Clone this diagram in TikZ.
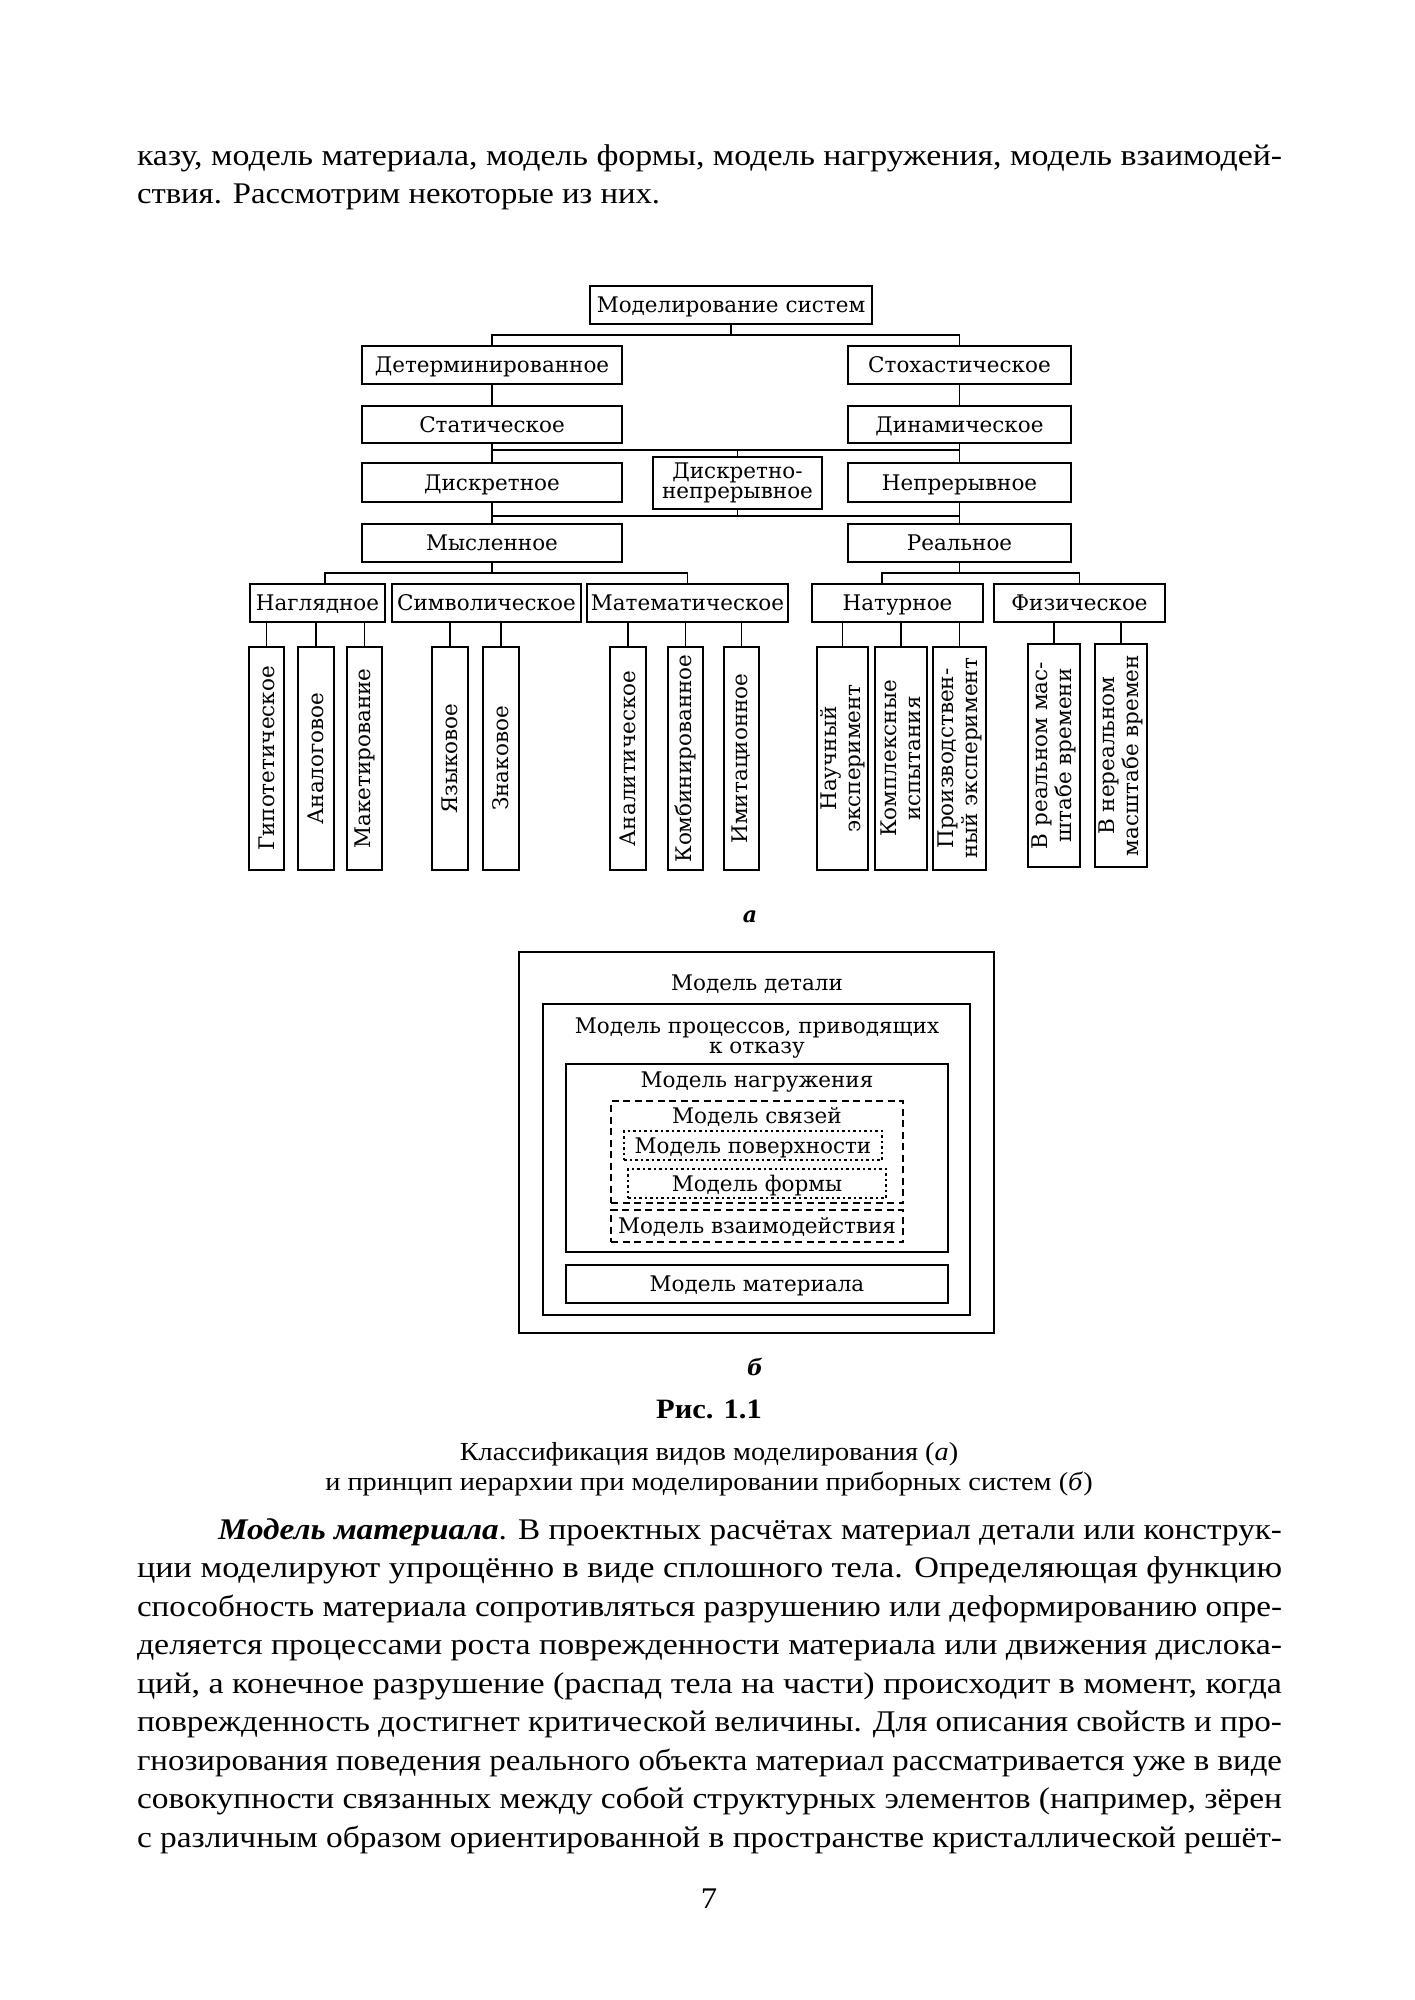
\documentclass[tikz,border=0pt]{standalone}
\usepackage{fontspec}
\setmainfont[FakeStretch=1.09]{Liberation Serif}
\newfontfamily\dfont{DejaVu Serif}
\usepackage{graphicx}
\usetikzlibrary{calc}
\begin{document}
\begin{tikzpicture}[x=1pt,y=-1pt,
  every node/.style={inner sep=0pt, outer sep=0pt},
  txt/.style={anchor=base west, font=\fontsize{30}{38}\selectfont},
  ctxt/.style={anchor=base, font=\fontsize{26}{28}\selectfont},
  dlab/.style={font=\dfont\fontsize{21.5}{24}\selectfont},
  abox/.style={dlab, draw, line width=1.8pt, text height=15pt, text depth=0pt, minimum height=38pt},
  vbox/.style={dlab, draw, line width=1.8pt, rotate=90, minimum width=223pt, align=center},
  con/.style={line width=1.8pt},
  fb/.style={draw, line width=2.6pt},
  dashbox/.style={dlab, draw, line width=1.8pt, dash pattern=on 7pt off 4.5pt, text height=15pt, text depth=0pt},
  dotbox/.style={dlab, draw, line width=1.6pt, dash pattern=on 2.5pt off 3pt, text height=15pt, text depth=0pt},
  btxt/.style={dlab, anchor=base}
]
\fill[white] (0,0) rectangle (1414,2000);
\useasboundingbox (0,0) rectangle (1414,2000);

% ---- top text ----
\node[txt] (t1) at (137,165) {\resizebox{1145pt}{\height}{казу, модель материала, модель формы, модель нагружения, модель взаимодей-}};
\node[txt] (t2) at (137,203) {ствия. Рассмотрим некоторые из них.};

% ---- diagram a ----
\node[abox, minimum width=282pt] (top) at (731,305) {Моделирование систем};
\node[abox, minimum width=260pt] (det) at (492,365) {Детерминированное};
\node[abox, minimum width=223pt] (sto) at (959.5,365) {Стохастическое};
\node[abox, minimum width=260pt, minimum height=37pt] (stat) at (492,424.5) {Статическое};
\node[abox, minimum width=223pt, minimum height=37pt] (din) at (959.5,424.5) {Динамическое};
\node[abox, minimum width=260pt, minimum height=39pt] (diskr) at (492,482.5) {Дискретное};
\node[abox, minimum width=223pt, minimum height=39pt] (nep) at (959.5,482.5) {Непрерывное};
\node[dlab, draw, line width=1.8pt, minimum width=169pt, minimum height=52pt, align=center, font=\dfont\fontsize{21.5}{20}\selectfont] (dn) at (737.5,483) {Дискретно-\\непрерывное};
\node[abox, minimum width=260pt] (mysl) at (492,543) {Мысленное};
\node[abox, minimum width=223pt] (real) at (959.5,543) {Реальное};
\node[abox, minimum width=135pt] (nagl) at (317.5,603) {Наглядное};
\node[abox, minimum width=189pt] (sym) at (486.5,603) {Символическое};
\node[abox, minimum width=201pt] (mat) at (687.5,603) {Математическое};
\node[abox, minimum width=171pt] (nat) at (897.5,603) {Натурное};
\node[abox, minimum width=171pt] (fiz) at (1079.5,603) {Физическое};

\node[vbox, minimum height=35pt] (gip) at (266.5,758.5) {Гипотетическое};
\node[vbox, minimum height=36pt] (anl) at (316,758.5) {Аналоговое};
\node[vbox, minimum height=35pt] (mak) at (364.5,758.5) {Макетирование};
\node[vbox, minimum height=36pt] (yaz) at (450,758.5) {Языковое};
\node[vbox, minimum height=36pt] (zna) at (501,758.5) {Знаковое};
\node[vbox, minimum height=36pt] (ant) at (628,758.5) {Аналитическое};
\node[vbox, minimum height=35pt] (kmb) at (685.5,758.5) {Комбинированное};
\node[vbox, minimum height=35pt] (imi) at (741.5,758.5) {Имитационное};
\node[vbox, minimum height=51pt] (nau) at (842.5,758.5) {Научный\\эксперимент};
\node[vbox, minimum height=52pt] (kom) at (901,758.5) {Комплексные\\испытания};
\node[vbox, minimum height=53pt] (pro) at (959.5,758.5) {Производствен-\\ный эксперимент};
\node[vbox, minimum height=52pt] (vre) at (1054,755.5) {В реальном мас-\\штабе времени};
\node[vbox, minimum height=52pt] (vne) at (1121,755.5) {В нереальном\\масштабе времен};

% connectors
\coordinate (j1) at (731,335);
\draw[con] (top.south) -- (j1);
\draw[con] (det.north) |- (j1) -| (sto.north);
\draw[con] (det.south) -- (stat.north);
\draw[con] (sto.south) -- (din.north);
\coordinate (h1) at (0,450);
\draw[con] (stat.south) -- (diskr.north);
\draw[con] (din.south) -- (nep.north);
\draw[con] (stat.south |- h1) -- (din.south |- h1);
\draw[con] (dn.north) -- (dn.north |- h1);
\coordinate (h2) at (0,516);
\draw[con] (diskr.south) -- (mysl.north);
\draw[con] (nep.south) -- (real.north);
\draw[con] (diskr.south |- h2) -- (nep.south |- h2);
\draw[con] (dn.south) -- (dn.south |- h2);
\coordinate (h3) at (0,573);
\coordinate (nx) at (325,0);
\coordinate (nt) at (882,0);
\draw[con] (mysl.south) -- (mysl.south |- h3);
\draw[con] (nagl.north -| nx) |- (mat.north |- h3) -- (mat.north);
\draw[con] (real.south) -- (real.south |- h3);
\draw[con] (nat.north -| nt) |- (fiz.north |- h3) -- (fiz.north);
\foreach \p/\c in {nagl/gip, nagl/anl, nagl/mak, sym/yaz, sym/zna, mat/ant, mat/kmb, mat/imi, nat/nau, nat/kom, nat/pro, fiz/vre, fiz/vne}
  \draw[con] (\p.south -| \c.east) -- (\c.east);

\node[anchor=base, font=\dfont\bfseries\itshape\fontsize{22}{24}\selectfont] (la) at (750,922) {а};

% ---- diagram b ----
\node[fb, minimum width=475pt, minimum height=381pt] (b1) at (756.5,1142.5) {};
\node[fb, minimum width=427pt, minimum height=311pt] (b2) at (756.5,1159.5) {};
\node[fb, minimum width=382pt, minimum height=188pt] (b3) at (757,1158) {};
\node[fb, dlab, minimum width=382pt, minimum height=38pt, text height=15pt, text depth=0pt] (b4) at (757,1284) {Модель материала};
\node[dashbox, minimum width=292pt, minimum height=102pt] (b5) at (757,1152) {};
\node[dotbox, minimum width=258pt, minimum height=29pt] (b6) at (753,1145.5) {Модель поверхности};
\node[dotbox, minimum width=258pt, minimum height=29pt] (b7) at (757,1183.5) {Модель формы};
\node[dashbox, minimum width=292pt, minimum height=32pt] (b8) at (757,1226) {Модель взаимодействия};
\node[btxt] (tb1) at (757,990) {Модель детали};
\node[btxt] (tb2) at (757,1033) {Модель процессов, приводящих};
\node[btxt] (tb3) at (757,1053) {к отказу};
\node[btxt] (tb4) at (757,1087) {Модель нагружения};
\node[btxt] (tb5) at (757,1123) {Модель связей};

\node[anchor=base, font=\dfont\bfseries\itshape\fontsize{22}{24}\selectfont] (lb) at (755,1375) {б};

% ---- caption ----
\node[anchor=base, font=\bfseries\fontsize{28}{30}\selectfont] (fig) at (709,1418) {Рис. 1.1};
\node[ctxt] (c1) at (709,1460) {Классификация видов моделирования (\textit{а})};
\node[ctxt] (c2) at (709,1490) {и принцип иерархии при моделировании приборных систем (\textit{б})};

% ---- body text ----
\node[txt] (p1) at (218,1539) {\resizebox{1064pt}{\height}{\textbf{\textit{Модель материала}}. В проектных расчётах материал детали или конструк-}};
\node[txt] (p2) at (137,1577) {\resizebox{1145pt}{\height}{ции моделируют упрощённо в виде сплошного тела. Определяющая функцию}};
\node[txt] (p3) at (137,1616) {\resizebox{1145pt}{\height}{способность материала сопротивляться разрушению или деформированию опре-}};
\node[txt] (p4) at (137,1654) {\resizebox{1145pt}{\height}{деляется процессами роста поврежденности материала или движения дислока-}};
\node[txt] (p5) at (137,1693) {\resizebox{1145pt}{\height}{ций, а конечное разрушение (распад тела на части) происходит в момент, когда}};
\node[txt] (p6) at (137,1731) {\resizebox{1145pt}{\height}{поврежденность достигнет критической величины. Для описания свойств и про-}};
\node[txt] (p7) at (137,1770) {\resizebox{1145pt}{\height}{гнозирования поведения реального объекта материал рассматривается уже в виде}};
\node[txt] (p8) at (137,1808) {\resizebox{1145pt}{\height}{совокупности связанных между собой структурных элементов (например, зёрен}};
\node[txt] (p9) at (137,1847) {\resizebox{1145pt}{\height}{с различным образом ориентированной в пространстве кристаллической решёт-}};
\node[anchor=base, font=\fontsize{30}{38}\selectfont] (pn) at (709,1908) {7};
\end{tikzpicture}
\end{document}
